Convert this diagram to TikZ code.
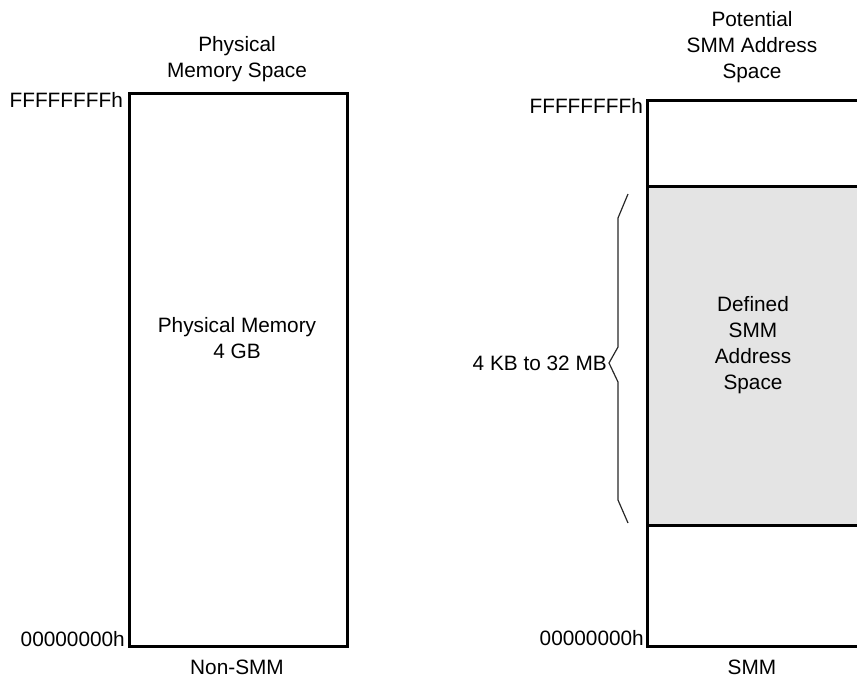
\documentclass[tikz,border=0pt]{standalone}
\usepackage{fontspec}
\setmainfont{Liberation Sans}
\definecolor{smmgray}{RGB}{228,228,228}
\definecolor{bracegray}{RGB}{40,40,40}
\begin{document}
\begin{tikzpicture}[x=1pt,y=-1pt,
  txt/.style={font=\fontsize{20.8}{26}\selectfont, align=center, inner sep=0pt},
  wall/.style={line width=3pt, black},
  bracepath/.style={line width=1.2pt, bracegray, line join=miter}]
\useasboundingbox (0,0) rectangle (857,681);

% left box
\node[draw, wall, minimum width=218pt, minimum height=553pt, anchor=north west, inner sep=0pt] (lbox) at (128,92) {};

% right box corners (right side runs off the page)
\coordinate (rtl) at (647,100);
\coordinate (rtr) at (857,100);
\coordinate (rdl) at (647,186);
\coordinate (rdr) at (857,186);
\coordinate (rbl) at (647,525);
\coordinate (rbr) at (857,525);
\coordinate (rfl) at (647,646);
\coordinate (rfr) at (857,646);
\fill[smmgray] (rdl) rectangle (rbr);
\draw[wall] (rtr) -- (rtl) -- (rfl) -- (rfr);
\draw[wall] (rdl) -- (rdr);
\draw[wall] (rbl) -- (rbr);

% titles
\node[txt] (ltitle) at (237,59) {Physical\\Memory Space};
\node[txt] (rtitle) at (752,47) {Potential\\SMM Address\\Space};

% address labels
\node[txt, anchor=north east] (lff) at ([xshift=-5pt]lbox.north west) {FFFFFFFFh};
\node[txt, anchor=south east] (l00) at ([xshift=-3pt,yshift=1pt]lbox.south west) {00000000h};
\node[txt, anchor=north east] (rff) at ([xshift=-4pt,yshift=2pt]rtl) {FFFFFFFFh};
\node[txt, anchor=south east] (r00) at ([xshift=-3pt]rfl) {00000000h};

% contents
\node[txt] (lmem) at (237,338) {Physical Memory\\4 GB};
\node[txt] (rdef) at (753,345) {Defined\\SMM\\Address\\Space};

% brace
\coordinate (b1) at (628,194);
\coordinate (b2) at (618,218);
\coordinate (b3) at (618,347);
\coordinate (b4) at (609,363);
\coordinate (b5) at (618,382);
\coordinate (b6) at (618,500);
\coordinate (b7) at (628,523);
\draw[bracepath] (b1) -- (b2) -- (b3) -- (b4) -- (b5) -- (b6) -- (b7);
\node[txt, anchor=east] (size) at ([xshift=-2pt]b4) {4 KB to 32 MB};

% bottom captions
\node[txt] (lcap) at (237,667) {Non-SMM};
\node[txt] (rcap) at (752,667) {SMM};
\end{tikzpicture}
\end{document}
